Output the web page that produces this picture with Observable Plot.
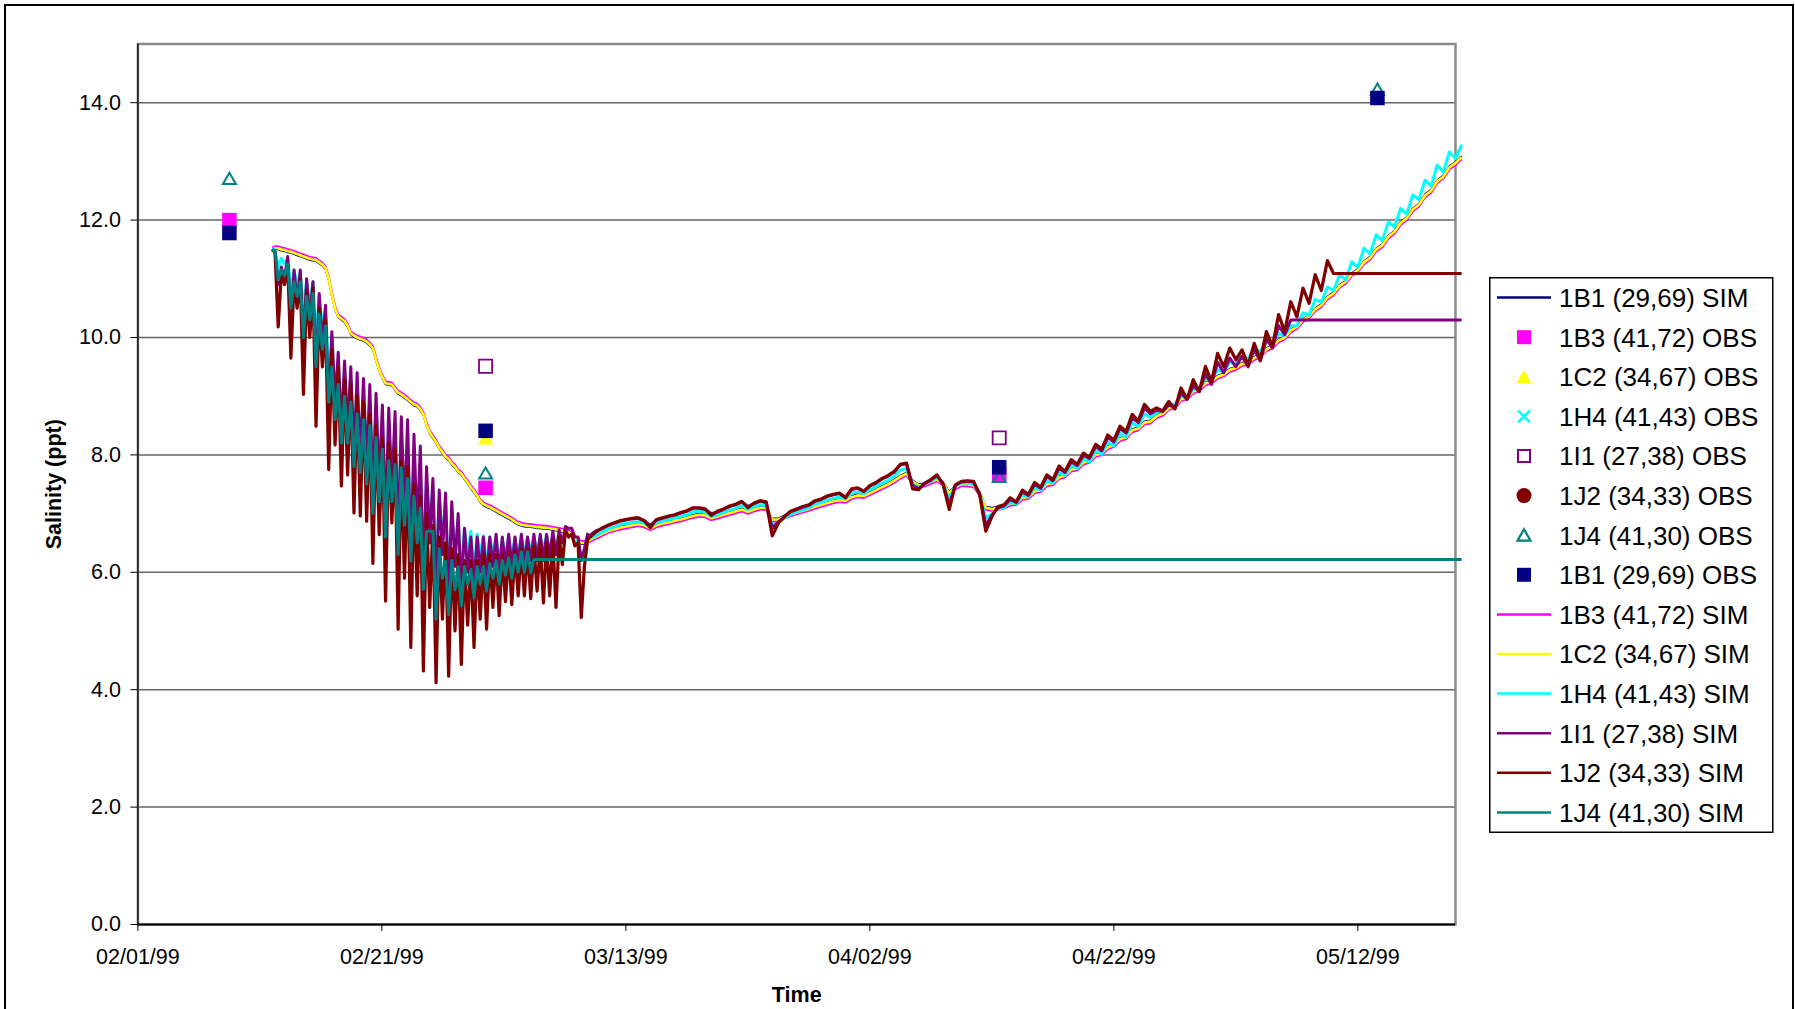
<!DOCTYPE html>
<html>
<head>
<meta charset="utf-8">
<script src="https://cdn.jsdelivr.net/npm/d3@7"></script>
<script src="https://cdn.jsdelivr.net/npm/@observablehq/plot@0.6"></script>
<style>
html,body{margin:0;padding:0;background:#fff;overflow:hidden;}
#page{position:relative;width:1795px;height:1009px;font-family:"Liberation Sans",Arial,sans-serif;}
#chart{position:absolute;left:0;top:0;}
#legend{position:absolute;left:1489px;top:277px;overflow:visible;}
#outer{position:absolute;left:4px;top:4px;width:1790px;height:1100px;border:2px solid #000;box-sizing:border-box;pointer-events:none;}
</style>
</head>
<body>
<div id="page"><div id="chart"></div><svg id="legend" width="286" height="557"></svg><div id="outer"></div></div>
<script>
// ---------- time axes (days after 02/01/99) ----------
const dayA = [
11.0,11.24,11.5,11.76,12.02,12.28,12.54,12.8,13.05,13.31,
13.57,13.83,14.09,14.35,14.6,14.86,15.12,15.38,15.64,15.9,
16.16,16.42,16.68,16.94,17.19,17.45,17.71,17.97,18.23,18.49,
18.75,19.01,19.26,19.52,19.78,20.04,20.3,20.56,20.82,21.08,
21.33,21.59,21.85,22.11,22.37,22.63,22.89,23.15,23.4,23.66,
23.92,24.18,24.44,24.7,24.96,25.22,25.47,25.73,25.99,26.25,
26.51,26.77,27.03,27.29,27.55,27.81,28.06,28.32,28.58,28.84,
29.1,29.36,29.61,29.87,30.13,30.39,30.65,30.91,31.17,31.43,
31.68,31.94,32.2,32.46,32.72,32.98,33.24,33.5,33.75,34.01,
34.27,34.53,34.79,35.05,35.3,35.56,35.82,36.08,36.34,36.6,
36.86];
const dayB = [
37,37.5,38,38.5,39,39.5,40,40.5,41,41.5,
42,42.5,43,43.5,44,44.5,45,45.5,46,46.5,
47,47.5,48,48.5,49,49.5,50,50.5,51,51.5,
52,52.5,53,53.5,54,54.5,55,55.5,56,56.5,
57,57.5,58,58.5,59,59.5,60,60.5,61,61.5,
62,62.5,63,63.5,64,64.5,65,65.5,66,66.5,
67,67.5,68,68.5,69,69.5,70,70.5,71,71.5,
72,72.5,73,73.5,74,74.5,75,75.5,76,76.5,
77,77.5,78,78.5,79,79.5,80,80.5,81,81.5,
82,82.5,83,83.5,84,84.5,85,85.5,86,86.5,
87,87.5,88,88.5,89,89.5,90,90.5,91,91.5,
92,92.5,93,93.5,94,94.5,95,95.5,96,96.5,
97,97.5,98,98.5,99,99.5,100,100.5,101,101.5,
102,102.5,103,103.5,104,104.5,105,105.5,106,106.5,
107,107.5,108,108.5];

// ---------- simulated salinity (ppt) ----------
// 1B1 (29,69) SIM
const n1A = [
11.48,11.5,11.5,11.48,11.47,11.45,11.44,11.42,11.4,11.38,
11.36,11.34,11.32,11.31,11.3,11.26,11.22,11.16,10.98,10.7,
10.48,10.34,10.3,10.26,10.18,10.05,10.01,9.98,9.96,9.94,
9.91,9.86,9.8,9.6,9.43,9.3,9.2,9.19,9.18,9.1,
9.04,9.01,8.97,8.93,8.88,8.84,8.82,8.76,8.67,8.5,
8.36,8.28,8.2,8.1,8.03,7.95,7.91,7.83,7.78,7.7,
7.66,7.58,7.51,7.43,7.36,7.28,7.19,7.14,7.11,7.09,
7.06,7.03,7.0,6.97,6.94,6.91,6.88,6.84,6.81,6.79,
6.78,6.77,6.77,6.76,6.75,6.75,6.74,6.74,6.73,6.72,
6.71,6.7,6.69,6.68,6.66,6.62,6.56,6.52,6.48,6.48,
6.51];
const n1B = [
6.57,6.62,6.67,6.72,6.75,6.78,6.8,6.82,6.84,6.82,
6.77,6.82,6.85,6.87,6.9,6.92,6.95,6.98,7.0,6.99,
6.94,6.97,7.0,7.03,7.06,7.09,7.05,7.09,7.12,7.12,
6.92,6.92,6.97,7.01,7.04,7.07,7.1,7.14,7.17,7.2,
7.23,7.25,7.24,7.3,7.33,7.32,7.37,7.42,7.47,7.52,
7.58,7.65,7.7,7.57,7.5,7.52,7.56,7.6,7.54,7.37,
7.47,7.52,7.52,7.5,7.37,7.12,7.1,7.12,7.14,7.19,
7.2,7.29,7.3,7.4,7.42,7.52,7.54,7.64,7.67,7.77,
7.79,7.89,7.92,8.02,8.05,8.15,8.19,8.29,8.32,8.44,
8.47,8.57,8.59,8.68,8.72,8.82,8.85,8.97,9.0,9.1,
9.14,9.24,9.27,9.35,9.39,9.47,9.5,9.57,9.59,9.67,
9.72,9.82,9.87,9.97,10.02,10.14,10.2,10.32,10.38,10.5,
10.57,10.7,10.77,10.9,10.97,11.1,11.17,11.3,11.38,11.52,
11.59,11.74,11.82,11.97,12.05,12.2,12.28,12.44,12.52,12.68,
12.76,12.92,12.99,13.09];
// 1B3 (41,72) SIM
const m3A = [
11.53,11.55,11.55,11.53,11.52,11.5,11.49,11.47,11.45,11.43,
11.41,11.39,11.37,11.36,11.35,11.31,11.27,11.21,11.03,10.75,
10.53,10.39,10.35,10.31,10.23,10.1,10.06,10.03,10.01,9.99,
9.96,9.91,9.85,9.65,9.48,9.35,9.25,9.24,9.23,9.15,
9.09,9.06,9.02,8.98,8.93,8.89,8.87,8.81,8.72,8.55,
8.41,8.33,8.25,8.15,8.08,8.0,7.96,7.88,7.83,7.75,
7.71,7.63,7.56,7.48,7.41,7.33,7.24,7.19,7.16,7.14,
7.11,7.08,7.05,7.02,6.99,6.96,6.93,6.89,6.86,6.84,
6.83,6.82,6.82,6.81,6.8,6.8,6.79,6.79,6.78,6.77,
6.76,6.75,6.74,6.73,6.71,6.67,6.61,6.57,6.53,6.53,
6.56];
const m3B = [
6.52,6.57,6.62,6.67,6.7,6.73,6.75,6.77,6.79,6.77,
6.72,6.77,6.8,6.82,6.85,6.87,6.9,6.93,6.95,6.94,
6.89,6.92,6.95,6.98,7.01,7.04,7.0,7.04,7.07,7.07,
6.87,6.87,6.92,6.96,6.99,7.02,7.05,7.09,7.12,7.15,
7.18,7.2,7.19,7.25,7.28,7.27,7.32,7.37,7.42,7.47,
7.53,7.6,7.65,7.52,7.45,7.47,7.51,7.55,7.49,7.32,
7.42,7.47,7.47,7.45,7.32,7.07,7.05,7.07,7.09,7.14,
7.15,7.24,7.25,7.35,7.37,7.47,7.49,7.59,7.62,7.72,
7.74,7.84,7.87,7.97,8.0,8.1,8.14,8.24,8.27,8.39,
8.42,8.52,8.54,8.63,8.67,8.77,8.8,8.92,8.95,9.05,
9.09,9.19,9.22,9.3,9.34,9.42,9.45,9.52,9.54,9.62,
9.67,9.77,9.82,9.92,9.97,10.09,10.15,10.27,10.33,10.45,
10.52,10.65,10.72,10.85,10.92,11.05,11.12,11.25,11.33,11.47,
11.54,11.69,11.77,11.92,12.0,12.15,12.23,12.39,12.47,12.63,
12.71,12.87,12.94,13.04];
// 1C2 (34,67) SIM
const y2A = [
11.5,11.52,11.52,11.5,11.49,11.47,11.46,11.44,11.42,11.4,
11.38,11.36,11.34,11.33,11.32,11.28,11.24,11.18,11.0,10.72,
10.5,10.36,10.32,10.28,10.2,10.07,10.03,10.0,9.98,9.96,
9.93,9.88,9.82,9.62,9.45,9.32,9.22,9.21,9.2,9.12,
9.06,9.03,8.99,8.95,8.9,8.86,8.84,8.78,8.69,8.52,
8.38,8.3,8.22,8.12,8.05,7.97,7.93,7.85,7.8,7.72,
7.68,7.6,7.53,7.45,7.38,7.3,7.21,7.16,7.13,7.11,
7.08,7.05,7.02,6.99,6.96,6.93,6.9,6.86,6.83,6.81,
6.8,6.79,6.79,6.78,6.77,6.77,6.76,6.76,6.75,6.74,
6.73,6.72,6.71,6.7,6.68,6.64,6.58,6.54,6.5,6.5,
6.53];
const y2B = [
6.55,6.6,6.65,6.7,6.73,6.76,6.78,6.8,6.82,6.8,
6.75,6.8,6.83,6.85,6.88,6.9,6.93,6.96,6.98,6.97,
6.92,6.95,6.98,7.01,7.04,7.07,7.03,7.07,7.1,7.1,
6.9,6.9,6.95,6.99,7.02,7.05,7.08,7.12,7.15,7.18,
7.21,7.23,7.22,7.28,7.31,7.3,7.35,7.4,7.45,7.5,
7.56,7.63,7.68,7.55,7.48,7.5,7.54,7.58,7.52,7.35,
7.45,7.5,7.5,7.48,7.35,7.1,7.08,7.1,7.12,7.17,
7.18,7.27,7.28,7.38,7.4,7.5,7.52,7.62,7.65,7.75,
7.77,7.87,7.9,8.0,8.03,8.13,8.17,8.27,8.3,8.42,
8.45,8.55,8.57,8.66,8.7,8.8,8.83,8.95,8.98,9.08,
9.12,9.22,9.25,9.33,9.37,9.45,9.48,9.55,9.57,9.65,
9.7,9.8,9.85,9.95,10.0,10.12,10.18,10.3,10.36,10.48,
10.55,10.68,10.75,10.88,10.95,11.08,11.15,11.28,11.36,11.5,
11.57,11.72,11.8,11.95,12.03,12.18,12.26,12.42,12.5,12.66,
12.74,12.9,12.97,13.07];
// 1H4 (41,43) SIM
const h4A = [
11.5,11.5,11.2,11.35,11.25,11.35,10.8,11.15,10.9,11.1,
10.5,10.95,10.6,10.95,10.0,10.7,10.2,10.45,9.4,9.9,
9.0,9.55,8.7,9.4,8.7,9.3,8.3,9.1,8.2,9.0,
8.0,8.9,7.6,8.75,7.7,8.6,7.2,8.5,7.6,8.4,
6.9,8.3,7.3,8.2,6.6,7.9,7.0,7.7,6.3,7.5,
6.9,7.45,6.0,7.3,6.6,7.15,5.9,7.0,6.4,6.9,
5.9,6.75,6.3,6.7,6.0,6.65,6.3,6.62,6.1,6.6,
6.3,6.6,6.2,6.55,6.3,6.6,6.25,6.6,6.3,6.6,
6.3,6.6,6.35,6.6,6.35,6.6,6.4,6.62,6.4,6.62,
6.45,6.65,6.5,6.7,6.62,6.65,6.5,6.55,6.2,6.4,
6.6];
const h4B = [
6.58,6.62,6.68,6.73,6.77,6.81,6.83,6.85,6.86,6.84,
6.77,6.84,6.87,6.9,6.92,6.95,6.98,7.03,7.04,7.02,
6.95,6.98,7.02,7.06,7.09,7.14,7.07,7.12,7.15,7.14,
6.8,6.85,6.92,6.99,7.03,7.06,7.1,7.16,7.19,7.23,
7.26,7.28,7.25,7.35,7.37,7.34,7.41,7.46,7.52,7.57,
7.64,7.74,7.77,7.5,7.45,7.5,7.55,7.62,7.5,7.25,
7.47,7.52,7.52,7.5,7.34,6.92,7.0,7.08,7.1,7.19,
7.17,7.32,7.28,7.44,7.4,7.56,7.52,7.7,7.65,7.82,
7.77,7.93,7.88,8.07,8.01,8.22,8.15,8.37,8.3,8.55,
8.48,8.7,8.64,8.72,8.74,8.86,8.86,9.0,8.98,9.12,
9.12,9.3,9.28,9.45,9.42,9.58,9.55,9.68,9.64,9.8,
9.76,9.93,9.9,10.07,10.03,10.2,10.2,10.42,10.38,10.65,
10.6,10.86,10.8,11.07,10.98,11.29,11.2,11.52,11.42,11.75,
11.65,11.97,11.88,12.2,12.1,12.43,12.35,12.68,12.58,12.94,
12.82,13.16,13.05,13.28];
// 1I1 (27,38) SIM
const i1A = [
11.5,11.45,10.9,11.2,11.0,11.38,10.3,11.15,10.6,11.15,
9.9,11.0,10.3,10.95,9.4,10.75,9.9,10.55,8.8,10.1,
8.9,9.75,8.4,9.6,8.4,9.5,8.0,9.4,7.9,9.3,
7.8,9.2,7.3,9.05,7.5,8.85,6.8,8.8,7.4,8.74,
6.4,8.65,7.0,8.6,6.1,8.35,6.7,8.15,5.8,7.8,
6.5,7.6,5.6,7.4,6.3,7.35,5.6,7.2,6.1,7.0,
5.7,6.75,6.0,6.6,5.8,6.6,6.0,6.6,5.9,6.6,
6.1,6.65,6.0,6.6,6.1,6.65,6.1,6.6,6.15,6.65,
6.15,6.6,6.2,6.65,6.2,6.65,6.2,6.65,6.25,6.7,
6.3,6.72,6.5,6.78,6.75,6.75,6.6,6.6,6.2,6.4,
6.65];
const i1B = [
6.62,6.7,6.74,6.79,6.83,6.87,6.89,6.91,6.92,6.88,
6.8,6.89,6.92,6.95,6.97,7.01,7.04,7.09,7.09,7.07,
7.0,7.03,7.07,7.12,7.15,7.2,7.12,7.17,7.21,7.19,
6.75,6.86,6.95,7.03,7.07,7.11,7.14,7.21,7.24,7.29,
7.32,7.34,7.28,7.41,7.43,7.38,7.47,7.52,7.59,7.64,
7.71,7.83,7.85,7.48,7.43,7.51,7.57,7.65,7.5,7.15,
7.48,7.54,7.55,7.54,7.33,6.8,6.97,7.1,7.13,7.24,
7.19,7.37,7.31,7.5,7.43,7.63,7.56,7.77,7.7,7.88,
7.82,7.99,7.94,8.14,8.07,8.3,8.22,8.45,8.37,8.63,
8.55,8.8,8.7,8.76,8.74,8.85,8.8,9.05,8.95,9.18,
9.08,9.38,9.2,9.58,9.4,9.65,9.5,9.68,9.5,9.8,
9.6,9.97,9.82,10.2,10.05,10.3];
const i1Tail = [[108.5, 10.3]];
// 1J2 (34,33) SIM
const j2A = [
11.5,11.45,10.18,11.1,10.9,11.25,9.65,10.95,10.5,11.0,
9.03,10.8,10.0,10.85,8.49,10.5,9.5,10.3,7.75,9.8,
8.17,9.5,7.47,9.3,7.66,9.2,7.01,9.0,6.96,8.9,
6.87,8.7,6.15,8.5,6.64,8.3,5.51,8.2,6.84,8.1,
5.03,7.9,5.9,7.8,4.72,7.5,5.6,7.3,4.32,7.0,
5.4,6.8,4.12,6.6,5.2,6.5,4.23,6.4,5.0,6.3,
4.43,6.2,5.1,6.2,4.72,6.2,5.2,6.3,5.03,6.3,
5.4,6.3,5.26,6.3,5.5,6.35,5.45,6.35,5.6,6.4,
5.6,6.4,5.55,6.45,5.68,6.5,5.48,6.5,5.6,6.55,
5.4,6.6,6.13,6.72,6.6,6.65,6.45,6.5,5.23,6.1,
6.55];
const j2B = [
6.59,6.68,6.75,6.8,6.84,6.88,6.9,6.92,6.93,6.88,
6.76,6.9,6.93,6.96,6.98,7.02,7.05,7.1,7.1,7.08,
6.97,7.04,7.08,7.13,7.16,7.21,7.1,7.18,7.22,7.2,
6.62,6.84,6.95,7.04,7.08,7.12,7.15,7.22,7.25,7.3,
7.33,7.35,7.27,7.42,7.44,7.38,7.48,7.53,7.6,7.65,
7.72,7.84,7.86,7.42,7.41,7.52,7.58,7.66,7.5,7.07,
7.49,7.55,7.56,7.55,7.32,6.7,6.95,7.12,7.15,7.27,
7.2,7.4,7.33,7.53,7.45,7.66,7.58,7.81,7.72,7.92,
7.84,8.03,7.96,8.18,8.1,8.34,8.25,8.49,8.4,8.69,
8.58,8.86,8.74,8.8,8.75,8.91,8.78,9.14,8.95,9.28,
9.08,9.51,9.25,9.73,9.5,9.82,9.62,9.79,9.53,9.9,
9.62,10.1,9.85,10.39,10.1,10.61,10.35,10.84,10.58,11.07,
10.8,11.31,11.09];
const j2Tail = [[108.5, 11.09]];
// 1J4 (41,30) SIM
const j4A = [
11.48,11.48,10.98,11.15,11.05,11.25,10.5,10.95,10.7,10.95,
10.0,10.7,10.3,10.75,9.5,10.4,9.8,10.2,8.9,9.5,
8.6,9.2,8.2,9.0,8.2,8.9,7.8,8.7,7.7,8.6,
7.5,8.5,7.0,8.3,7.2,8.1,6.6,7.9,7.2,7.83,
6.3,7.78,6.8,7.6,6.19,7.3,6.5,7.1,5.71,6.7,
6.7,6.7,5.2,6.4,5.9,6.19,5.28,6.2,5.7,6.1,
5.43,6.1,5.8,6.05,5.57,6.1,5.8,6.1,5.68,6.15,
5.9,6.2,5.8,6.2,5.95,6.25,5.9,6.3,6.0,6.35,
6.0,6.35,5.99,6.22];
const j4Tail = [[108.5, 6.22]];

// ---------- observed salinity (ppt) ----------
const obsDays = [7.5, 28.5, 70.6, 101.6];
const obs1B3 = [12.0, 7.44, 7.68, null];
const obs1C2 = [null, 8.25, null, null];
const obs1H4 = [null, null, null, null];
const obs1I1 = [null, 9.51, 8.29, null];
const obs1J2 = [null, null, null, null];
const obs1J4 = [12.68, 7.66, 7.6, 14.2];
const obs1B1 = [11.78, 8.41, 7.79, 14.08];

// ---------- names, ticks ----------
const simNames = ["1B1 (29,69) SIM","1B3 (41,72) SIM","1C2 (34,67) SIM","1H4 (41,43) SIM","1I1 (27,38) SIM","1J2 (34,33) SIM","1J4 (41,30) SIM"];
const obsNames = ["1B3 (41,72) OBS","1C2 (34,67) OBS","1H4 (41,43) OBS","1I1 (27,38) OBS","1J2 (34,33) OBS","1J4 (41,30) OBS","1B1 (29,69) OBS"];
const yTicks = [0,2,4,6,8,10,12,14];
const xTickDates = ["1999-02-01","1999-02-21","1999-03-13","1999-04-02","1999-04-22","1999-05-12"];

// ---------- styles ----------
const simColors = ["#000080","#FF00FF","#FFFF00","#00FFFF","#800080","#800000","#008080"];
const simWidths = [1.8, 2.4, 2.6, 3, 3, 3.2, 3];
const obsStyles = [
  {symbol:"square", r:8.2, fill:"#FF00FF"},
  {symbol:"triangle", r:5.6, fill:"#FFFF00"},
  {symbol:"times", r:5, fill:"none", stroke:"#00FFFF", strokeWidth:2.5},
  {symbol:"square", r:7.4, fill:"none", stroke:"#800080", strokeWidth:1.8},
  {symbol:"circle", r:7.5, fill:"#800000"},
  {symbol:"triangle", r:4.8, fill:"none", stroke:"#008080", strokeWidth:2},
  {symbol:"square", r:8.2, fill:"#000080"}
];

const base = Date.UTC(1999, 1, 1);
const toDate = d => new Date(base + d * 864e5);

const simA = [n1A, m3A, y2A, h4A, i1A, j2A, j4A];
const simB = [n1B, m3B, y2B, h4B, i1B, j2B, []];
const simTail = [[], [], [], [], i1Tail, j2Tail, j4Tail];

const lineMarks = simNames.map((name, k) => {
  const rows = [];
  dayA.forEach((d, i) => { const v = simA[k][i]; if (v != null) rows.push({series: name, date: toDate(d), value: v}); });
  dayB.forEach((d, i) => { const v = simB[k][i]; if (v != null) rows.push({series: name, date: toDate(d), value: v}); });
  simTail[k].forEach(([d, v]) => rows.push({series: name, date: toDate(d), value: v}));
  return Plot.line(rows, {x: "date", y: "value", stroke: simColors[k], strokeWidth: simWidths[k], strokeLinejoin: "round", strokeLinecap: "butt"});
});

const obsVals = [obs1B3, obs1C2, obs1H4, obs1I1, obs1J2, obs1J4, obs1B1];
const dotMarks = obsNames.map((name, k) => {
  const rows = obsDays.map((d, i) => ({series: name, date: toDate(d), value: obsVals[k][i]})).filter(r => r.value != null);
  return Plot.dot(rows, {x: "date", y: "value", ...obsStyles[k]});
});

const plot = Plot.plot({
  width: 1795,
  height: 1009,
  marginLeft: 137.4,
  marginRight: 340,
  marginTop: 43.5,
  marginBottom: 85,
  style: {fontFamily: "'Liberation Sans', Arial, sans-serif", fontSize: "21.5px", background: "white", color: "black", overflow: "visible"},
  x: {type: "utc", domain: [toDate(0), toDate(108)]},
  y: {domain: [0, 15]},
  marks: [
    Plot.gridY(yTicks.filter(t => t > 0), {stroke: "#666", strokeOpacity: 1, strokeWidth: 1.5}),
    Plot.frame({stroke: "#8a8a8a", strokeWidth: 2.5}),
    Plot.axisY(yTicks, {tickSize: 7, tickPadding: 10, tickFormat: d => d.toFixed(1), fontSize: 21.5, label: null}),
    Plot.axisX(xTickDates.map(s => new Date(s + "T00:00:00Z")), {tickSize: 7, tickPadding: 17, tickFormat: d3.utcFormat("%m/%d/%y"), fontSize: 21.5, label: null}),
    Plot.ruleX([toDate(0)], {stroke: "#000", strokeWidth: 1.2}),
    Plot.ruleY([0], {stroke: "#000", strokeWidth: 2}),
    ...lineMarks,
    ...dotMarks,
    Plot.text(["Salinity (ppt)"], {text: d => d, frameAnchor: "left", dx: -83.6, rotate: -90, textAnchor: "middle", lineAnchor: "middle", fontWeight: "bold", fontSize: 21.5}),
    Plot.text(["Time"], {text: d => d, frameAnchor: "bottom", dy: 71, textAnchor: "middle", fontWeight: "bold", fontSize: 21.5, lineAnchor: "middle"})
  ]
});
document.getElementById("chart").append(plot);

// ---------- legend ----------
const legendLabels = ["1B1 (29,69) SIM","1B3 (41,72) OBS","1C2 (34,67) OBS","1H4 (41,43) OBS","1I1 (27,38) OBS","1J2 (34,33) OBS","1J4 (41,30) OBS","1B1 (29,69) OBS","1B3 (41,72) SIM","1C2 (34,67) SIM","1H4 (41,43) SIM","1I1 (27,38) SIM","1J2 (34,33) SIM","1J4 (41,30) SIM"];
const legendKinds = ["line","square","triangle","times","opensquare","circle","opentriangle","square","line","line","line","line","line","line"];
const legendColors = ["#000080","#FF00FF","#FFFF00","#00FFFF","#800080","#800000","#008080","#000080","#FF00FF","#FFFF00","#00FFFF","#800080","#800000","#008080"];

const lg = d3.select("#legend");
lg.append("rect").attr("x", 0.75).attr("y", 0.75).attr("width", 283).attr("height", 554.5)
  .attr("fill", "#fff").attr("stroke", "#000").attr("stroke-width", 1.5);
legendLabels.forEach((label, i) => {
  const cy = 20.6 + i * 39.6, cx = 35, kind = legendKinds[i], c = legendColors[i];
  const g = lg.append("g");
  if (kind === "line") {
    g.append("line").attr("x1", 8).attr("x2", 62).attr("y1", cy).attr("y2", cy).attr("stroke", c).attr("stroke-width", 2.5);
  } else if (kind === "square") {
    g.append("rect").attr("x", cx - 7).attr("y", cy - 7).attr("width", 14).attr("height", 14).attr("fill", c);
  } else if (kind === "opensquare") {
    g.append("rect").attr("x", cx - 6).attr("y", cy - 6).attr("width", 12).attr("height", 12).attr("fill", "none").attr("stroke", c).attr("stroke-width", 2);
  } else if (kind === "triangle") {
    g.append("path").attr("d", `M${cx},${cy - 7}L${cx + 7.5},${cy + 6.5}L${cx - 7.5},${cy + 6.5}Z`).attr("fill", c);
  } else if (kind === "opentriangle") {
    g.append("path").attr("d", `M${cx},${cy - 6}L${cx + 6.5},${cy + 5.5}L${cx - 6.5},${cy + 5.5}Z`).attr("fill", "none").attr("stroke", c).attr("stroke-width", 2.2);
  } else if (kind === "circle") {
    g.append("circle").attr("cx", cx).attr("cy", cy).attr("r", 7.5).attr("fill", c);
  } else if (kind === "times") {
    g.append("path").attr("d", `M${cx - 6},${cy - 6}L${cx + 6},${cy + 6}M${cx - 6},${cy + 6}L${cx + 6},${cy - 6}`).attr("stroke", c).attr("stroke-width", 2.5).attr("fill", "none");
  }
  g.append("text").attr("x", 70).attr("y", cy).attr("dy", "0.36em")
    .attr("font-family", "'Liberation Sans', Arial, sans-serif").attr("font-size", 26).attr("fill", "#000").text(label);
});
</script>
</body>
</html>
